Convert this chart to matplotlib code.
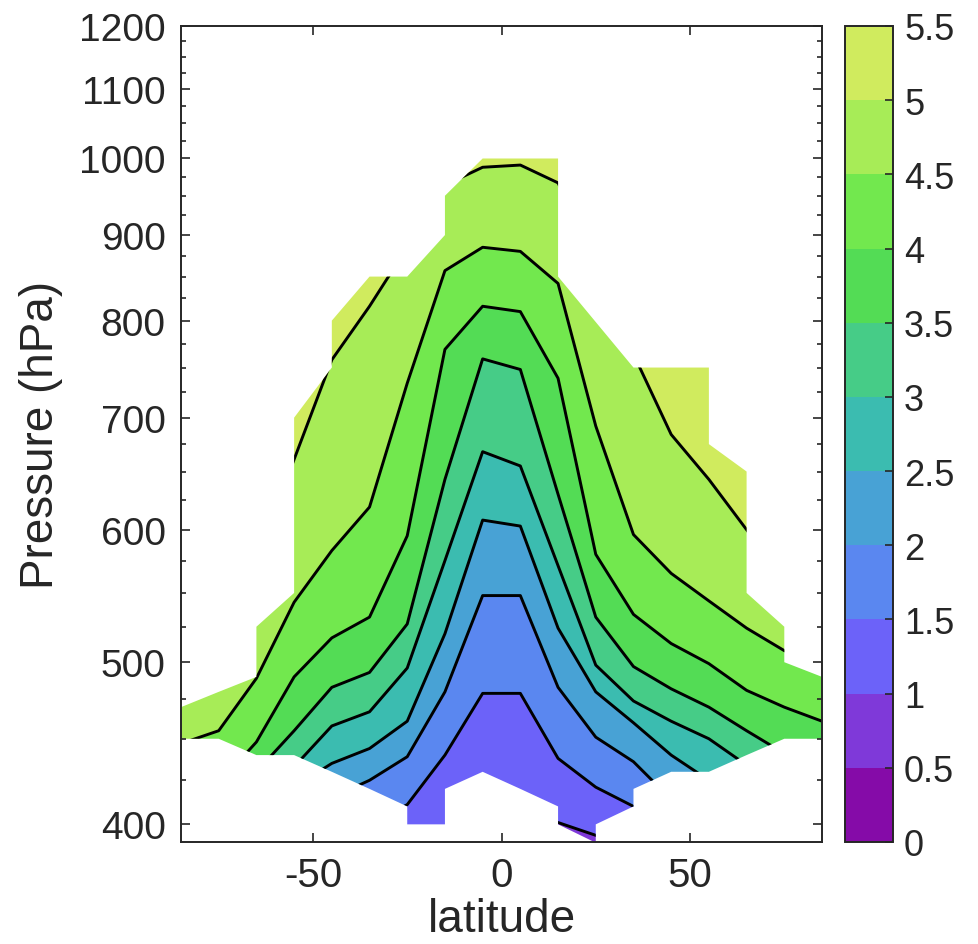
"""Latitude-pressure section: filled isolines on a masked region, with colorbar."""
import numpy as np
import matplotlib
matplotlib.use("Agg")
import matplotlib.pyplot as plt
from matplotlib.colors import ListedColormap, BoundaryNorm
from matplotlib.cm import ScalarMappable
from matplotlib.patches import Polygon
from matplotlib.ticker import FixedLocator, FuncFormatter, NullFormatter, NullLocator

plt.rcParams['font.family'] = ['Liberation Sans', 'DejaVu Sans']
plt.rcParams['axes.unicode_minus'] = False

# latitude of the grid columns (deg)
lat = [-85, -75, -65, -55, -45, -35, -25, -15, -5, 5, 15, 25, 35, 45, 55, 65, 75, 85]

# pressure (hPa) where the field crosses each contour level, per latitude
p_10 = [384, 385, 387, 390, 392, 393, 395, 396, 405, 403, 401, 394, 390, 388, 387, 386, 385, 384]
p_15 = [388, 389, 392, 398, 402, 400, 411, 440, 479, 479, 438, 421, 410, 398, 396, 394, 392, 389]
p_20 = [392, 393, 398, 408, 415, 425, 439, 480, 548, 548, 483, 451, 436, 414, 408, 402, 398, 394]
p_25 = [396, 398, 405, 421, 435, 444, 461, 520, 608, 603, 524, 480, 460, 440, 425, 415, 405, 400]
p_30 = [402, 404, 415, 433, 458, 467, 496, 575, 668, 655, 571, 498, 474, 461, 450, 434, 420, 412]
p_35 = [410, 412, 430, 455, 483, 493, 527, 643, 759, 748, 630, 532, 497, 482, 470, 455, 441, 432]
p_40 = [420, 423, 448, 490, 517, 532, 595, 769, 816, 810, 739, 580, 534, 513, 499, 481, 470, 461]
p_45 = [447, 455, 489, 543, 583, 619, 734, 857, 885, 880, 842, 692, 596, 565, 544, 524, 508, 500]
p_50 = [520, 530, 575, 661, 758, 816, 885, 964, 988, 991, 967, 870, 764, 684, 643, 600, 560, 530]

# outline of the region that has data (lat, hPa)
outline_lat = [-85, -75, -65, -65, -55, -55, -45, -45, -35, -25, -15, -15, -5, 15, 15, 35,
               55, 55, 65, 65, 75, 75, 85, 85, 75, 65, 55, 45, 35, 35, 25, 25, 15, 15, 5,
               -5, -15, -15, -25, -25, -35, -45, -55, -65, -75, -85]
outline_p = [470, 480, 490, 525, 550, 700, 750, 800, 850, 850, 900, 950, 1000, 1000, 850, 750,
             750, 675, 650, 550, 525, 500, 490, 450, 450, 440, 430, 430, 420, 410, 400, 390, 400, 410, 420,
             430, 420, 400, 400, 410, 420, 430, 440, 440, 450, 450]

levels = [0, 0.5, 1, 1.5, 2, 2.5, 3, 3.5, 4, 4.5, 5, 5.5]
band_colors = ['#850ba8', '#7f39d9', '#6c62f9', '#5a87f0', '#48a2d5', '#3bbcb0',
               '#46cc87', '#53dc55', '#72e84e', '#a7ec57', '#d0eb5e']

y_major = [400, 500, 600, 700, 800, 900, 1000, 1100, 1200]
y_minor = [p for p in range(425, 1200, 25) if p % 100 != 0]

ink = '#262626'

fig = plt.figure(figsize=(9.79, 9.45), dpi=100)
ax = fig.add_axes([181 / 979, 1 - 843 / 945, (822 - 181) / 979, (843 - 27) / 945])
cax = fig.add_axes([845 / 979, 1 - 843 / 945, 48 / 979, (843 - 27) / 945])

ax.set_yscale('log')
ax.set_xlim(-85, 85)
ax.set_ylim(390.4, 1200)

region = Polygon(np.column_stack([outline_lat, outline_p]), closed=True,
                 transform=ax.transData, facecolor='none', edgecolor='none')

iso = [p_10, p_15, p_20, p_25, p_30, p_35, p_40, p_45, p_50]
bounds = [[380] * len(lat)] + iso + [[1100] * len(lat)]
for k in range(len(bounds) - 1):
    c = band_colors[k + 1]
    pc = ax.fill_between(lat, bounds[k], bounds[k + 1], facecolor=c, edgecolor=c, lw=0.6)
    pc.set_clip_path(region)
for p in iso:
    ln, = ax.plot(lat, p, color='k', lw=2.1)
    ln.set_clip_path(region)

# axes cosmetics
for s in ax.spines.values():
    s.set_linewidth(1.4)
    s.set_color(ink)
ax.set_xticks([-50, 0, 50])
ax.xaxis.set_minor_locator(NullLocator())
ax.yaxis.set_major_locator(FixedLocator(y_major))
ax.yaxis.set_minor_locator(FixedLocator(y_minor))
ax.yaxis.set_major_formatter(FuncFormatter(lambda v, pos: f"{v:.0f}"))
ax.yaxis.set_minor_formatter(NullFormatter())
ax.tick_params(which='both', direction='in', top=True, right=True, colors=ink, width=1.2)
ax.tick_params(which='major', length=6.5)
ax.tick_params(which='minor', length=3.6)
ax.tick_params(axis='y', labelsize=28, pad=11)
ax.tick_params(axis='x', labelsize=29, pad=10)

ax.set_ylabel('Pressure (hPa)', fontsize=33, color=ink)
ax.set_xlabel('latitude', fontsize=33, color=ink)
ax.yaxis.set_label_coords(-0.1835, 0.5)
ax.xaxis.set_label_coords(0.5, -0.068)

# colorbar
cmap = ListedColormap(band_colors)
norm = BoundaryNorm(levels, cmap.N)
sm = ScalarMappable(norm=norm, cmap=cmap)
cb = fig.colorbar(sm, cax=cax, ticks=levels)
cb.ax.yaxis.set_major_formatter(FuncFormatter(lambda v, pos: f"{v:g}"))
cb.outline.set_linewidth(1.4)
cb.outline.set_edgecolor(ink)
cax.tick_params(direction='in', length=6, width=1.2, labelsize=26, colors=ink, pad=8)
cax.minorticks_off()

fig.savefig('out.png', dpi=100)
